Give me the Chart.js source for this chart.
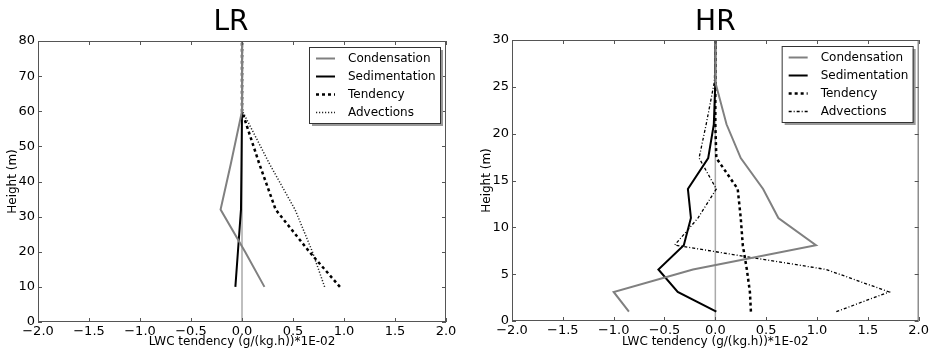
<!DOCTYPE html>
<html>
<head>
<meta charset="utf-8">
<script src="https://cdn.jsdelivr.net/npm/chart.js@4.4.1/dist/chart.umd.min.js"></script>
<style>
  body { margin: 0; background: #fff; }
  .wrap { position: absolute; top: 0; height: 351px; }
</style>
</head>
<body>
<div class="wrap" style="left:0;width:466px"><canvas id="lr"></canvas></div>
<div class="wrap" style="left:474px;width:457px"><canvas id="hr"></canvas></div>
<script>
// series names shared by both panels
const seriesNames = ['Condensation', 'Sedimentation', 'Tendency', 'Advections'];
const xLabel = 'LWC tendency (g/(kg.h))*1E-02';
const yLabel = 'Height (m)';

// LR panel (heights in m, tendencies *1E-02)
const lrHeights = [10, 20, 32, 45, 60, 80];
const lrCondensation = [0.22, 0.03, -0.21, -0.11, 0, 0];
const lrSedimentation = [-0.065, -0.04, -0.01, -0.005, 0, 0];
const lrTendency = [0.96, 0.66, 0.33, 0.17, 0, 0];
const lrAdvections = [0.81, 0.69, 0.52, 0.27, 0.005, 0.005];

// HR panel
const hrHeights = [1, 3.1, 5.5, 8.1, 11, 14.1, 17.4, 21, 25.5, 30];
const hrCondensation = [-0.85, -1.0, -0.22, 0.99, 0.62, 0.47, 0.25, 0.11, 0, 0];
const hrSedimentation = [0.01, -0.37, -0.56, -0.31, -0.24, -0.27, -0.07, -0.015, 0, 0];
const hrTendency = [0.35, 0.34, 0.31, 0.27, 0.25, 0.22, 0.01, 0, 0, 0];
const hrAdvections = [1.19, 1.71, 1.09, -0.40, -0.17, 0.01, -0.16, -0.09, -0.01, 0.005];

const xMin = -2, xMax = 2, xStep = 0.5;

const FONT = '"DejaVu Sans", Verdana, sans-serif';
Chart.defaults.font.family = FONT;
Chart.defaults.color = '#000';

function points(heights, values) {
  return heights.map((h, i) => ({ x: values[i], y: h }));
}

// frame, inward ticks, title and legend box drawn over the chart area
const decorPlugin = {
  id: 'decor',
  afterDatasetsDraw(chart, args, opts) {
    const { ctx, chartArea: a, scales } = chart;
    ctx.save();
    ctx.strokeStyle = '#555';
    ctx.lineWidth = 1;
    ctx.beginPath();
    scales.x.ticks.forEach(t => {
      const px = Math.round(scales.x.getPixelForValue(t.value)) + 0.5;
      ctx.moveTo(px, a.bottom); ctx.lineTo(px, a.bottom - 4);
      ctx.moveTo(px, a.top); ctx.lineTo(px, a.top + 4);
    });
    scales.y.ticks.forEach(t => {
      const py = Math.round(scales.y.getPixelForValue(t.value)) + 0.5;
      ctx.moveTo(a.left, py); ctx.lineTo(a.left + 4, py);
      ctx.moveTo(a.right, py); ctx.lineTo(a.right - 4, py);
    });
    ctx.stroke();
    ctx.strokeRect(a.left + 0.5, a.top + 0.5, a.right - a.left - 1, a.bottom - a.top - 1);

    // panel title
    ctx.fillStyle = '#000';
    ctx.font = '28px ' + FONT;
    ctx.textAlign = 'center';
    ctx.textBaseline = 'alphabetic';
    ctx.fillText(opts.title, (a.left + a.right) / 2 + opts.shift, 30);

    // legend
    const bx = a.right - 137, by = a.top + 6, bw = 131, bh = 76;
    ctx.fillStyle = '#999';
    ctx.fillRect(bx + 3, by + 3, bw, bh);
    ctx.fillStyle = '#fff';
    ctx.fillRect(bx, by, bw, bh);
    ctx.strokeStyle = '#333';
    ctx.strokeRect(bx + 0.5, by + 0.5, bw, bh);
    ctx.font = '12px ' + FONT;
    ctx.textAlign = 'left';
    ctx.textBaseline = 'middle';
    chart.data.datasets.filter(d => d.label).forEach((d, i) => {
      const y = Math.round(by + 10.7 + i * 18) + 0.5;
      ctx.strokeStyle = d.borderColor;
      ctx.lineWidth = d.borderWidth;
      ctx.setLineDash(d.borderDash || []);
      ctx.beginPath();
      ctx.moveTo(bx + 7, y); ctx.lineTo(bx + 26, y);
      ctx.stroke();
      ctx.setLineDash([]);
      ctx.fillStyle = '#000';
      ctx.fillText(d.label, bx + 39, y);
    });
    ctx.restore();
  }
};

function makeChart(id, cfg) {
  const styles = [
    { borderColor: '#808080', borderWidth: 2 },
    { borderColor: '#000', borderWidth: 2 },
    { borderColor: '#000', borderWidth: 2.5, borderDash: [3, 3] },
    cfg.advStyle
  ];
  const datasets = cfg.series.map((vals, i) => Object.assign({
    label: seriesNames[i],
    data: points(cfg.heights, vals),
    showLine: true,
    pointRadius: 0,
    fill: false,
    tension: 0,
    order: i
  }, styles[i]));
  // zero reference line
  datasets.push({
    label: '',
    data: [{ x: 0, y: cfg.yMin }, { x: 0, y: cfg.yMax }],
    showLine: true,
    pointRadius: 0,
    borderColor: '#aaaaaa',
    borderWidth: 1.5,
    order: 10
  });

  return new Chart(document.getElementById(id), {
    type: 'scatter',
    data: { datasets },
    options: {
      responsive: true,
      maintainAspectRatio: false,
      animation: false,
      layout: { padding: { top: cfg.top, right: cfg.right, left: 0, bottom: 0 } },
      plugins: {
        legend: { display: false },
        tooltip: { enabled: false },
        decor: { title: cfg.title, shift: cfg.shift }
      },
      scales: {
        x: {
          type: 'linear',
          min: xMin, max: xMax,
          grid: { display: false, drawTicks: false },
          border: { display: false },
          ticks: {
            stepSize: xStep,
            padding: 2,
            font: { size: 13 },
            maxRotation: 0,
            callback: v => (v < 0 ? '\u2212' : '') + Math.abs(v).toFixed(1)
          },
          title: { display: true, text: xLabel, font: { size: 12 }, padding: { top: 0, bottom: 2 } },
          afterFit: s => { s.height = cfg.xAxisH; }
        },
        y: {
          type: 'linear',
          min: cfg.yMin, max: cfg.yMax,
          grid: { display: false, drawTicks: false },
          border: { display: false },
          ticks: { stepSize: cfg.yStep, padding: 3, font: { size: 13 } },
          title: { display: true, text: yLabel, font: { size: 12 }, padding: { top: 6, bottom: 0 } },
          afterFit: s => { s.width = 38; }
        }
      }
    },
    plugins: [decorPlugin]
  });
}

makeChart('lr', {
  title: 'LR', shift: -11,
  heights: lrHeights,
  series: [lrCondensation, lrSedimentation, lrTendency, lrAdvections],
  yMin: 0, yMax: 80, yStep: 10,
  top: 41, right: 20, xAxisH: 29,
  advStyle: { borderColor: '#222', borderWidth: 1.5, borderDash: [1.2, 1.8] }
});

makeChart('hr', {
  title: 'HR', shift: 0,
  heights: hrHeights,
  series: [hrCondensation, hrSedimentation, hrTendency, hrAdvections],
  yMin: 0, yMax: 30, yStep: 5,
  top: 40, right: 11, xAxisH: 30,
  advStyle: { borderColor: '#000', borderWidth: 1.3, borderDash: [3, 2, 1, 2] }
});
</script>
</body>
</html>
